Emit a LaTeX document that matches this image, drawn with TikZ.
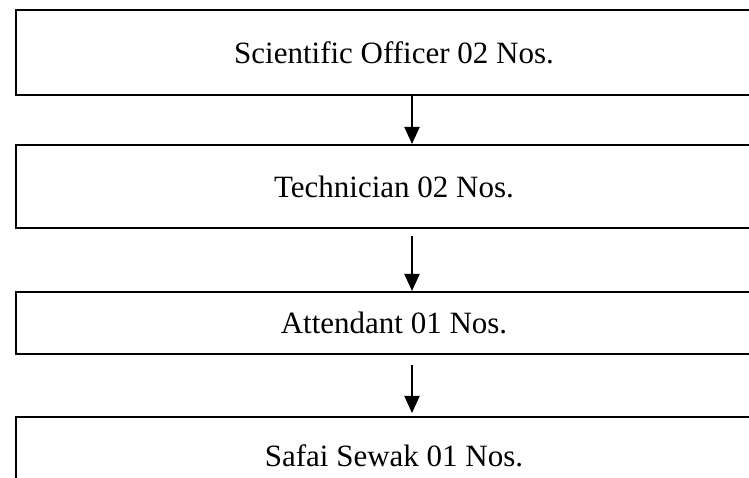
\documentclass[tikz,border=0pt]{standalone}
\usepackage{fontspec}
\setmainfont{Liberation Serif}
\usetikzlibrary{arrows.meta,positioning,calc}

\begin{document}
\begin{tikzpicture}[x=1pt,y=1pt,
    post/.style={draw,line width=2pt,minimum width=756pt,inner sep=0pt,
      font=\fontsize{31}{37}\selectfont},
    down/.style={line width=2pt,-{Triangle[length=17pt,width=15pt]}}]
      \useasboundingbox (0,0) rectangle (749,478);
      \node[post,minimum height=85pt] (sci) at (394, 425.5) {Scientific Officer 02 Nos.};
      \node[post,minimum height=83pt] (tech) at (394, 291.5) {Technician 02 Nos.};
      \node[post,minimum height=62pt] (att) at (394, 155) {Attendant 01 Nos.};
      \node[post,minimum height=78pt] (safai) at (394, 22) {Safai Sewak 01 Nos.};
      \draw[down] ([xshift=18pt]sci.south) -- ([xshift=18pt]tech.north);
      \draw[down] ([xshift=18pt,yshift=-7pt]tech.south) -- ([xshift=18pt]att.north);
      \draw[down] ([xshift=18pt,yshift=-10pt]att.south) -- ([xshift=18pt,yshift=3pt]safai.north);
    \end{tikzpicture}
\end{document}
